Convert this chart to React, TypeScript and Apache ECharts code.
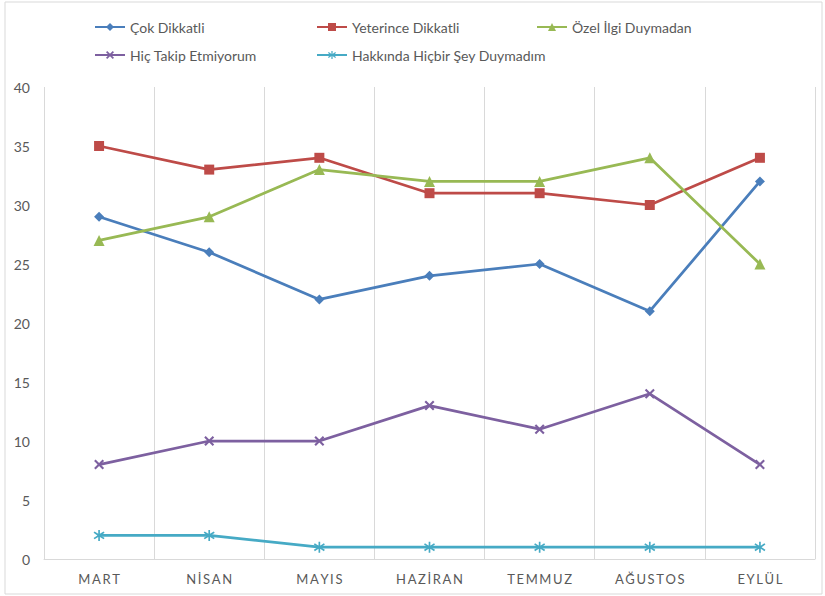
import React, { useEffect, useRef } from "react";
import * as echarts from "echarts";

const categories = ["MART", "NİSAN", "MAYIS", "HAZİRAN", "TEMMUZ", "AĞUSTOS", "EYLÜL"];
const cokDikkatli = [29, 26, 22, 24, 25, 21, 32];
const yeterinceDikkatli = [35, 33, 34, 31, 31, 30, 34];
const ozelIlgi = [27, 29, 33, 32, 32, 34, 25];
const hicTakip = [8, 10, 10, 13, 11, 14, 8];
const hakkinda = [2, 2, 1, 1, 1, 1, 1];

const names = [
  "Çok Dikkatli",
  "Yeterince Dikkatli",
  "Özel İlgi Duymadan",
  "Hiç Takip Etmiyorum",
  "Hakkında Hiçbir Şey Duymadım",
];
const colors = ["#4A7EBB", "#BE4B48", "#98B954", "#7D60A0", "#46AAC5"];

const xSymbol =
  "path://M0,1.5 L1.5,0 L5,3.5 L8.5,0 L10,1.5 L6.5,5 L10,8.5 L8.5,10 L5,6.5 L1.5,10 L0,8.5 L3.5,5 Z";
const starSymbol =
  "path://M4.3,0 L5.7,0 L5.7,3.6 L8.8,1.4 L9.6,2.6 L6.4,5 L9.6,7.4 L8.8,8.6 L5.7,6.4 L5.7,10 L4.3,10 L4.3,6.4 L1.2,8.6 L0.4,7.4 L3.6,5 L0.4,2.6 L1.2,1.4 L4.3,3.6 Z";

const FONT = "Lato, 'Open Sans', sans-serif";

export default function App() {
  const ref = useRef<HTMLDivElement>(null);
  useEffect(() => {
    if (!ref.current) return;
    const chart = echarts.init(ref.current, undefined, { renderer: "svg" });
    const dataSets = [cokDikkatli, yeterinceDikkatli, ozelIlgi, hicTakip, hakkinda];
    const symbols = ["diamond", "rect", "triangle", xSymbol, starSymbol];
    const symbolSizes = [10, 10, 11, 10, 11];
    const legendPos = [
      { left: 89, top: 15 },
      { left: 311, top: 15 },
      { left: 531, top: 15 },
      { left: 89, top: 43 },
      { left: 311, top: 43 },
    ];
    const spaced = (s: string) => s.split("").join("\u2009");
    chart.setOption({
      animation: false,
      textStyle: { fontFamily: FONT },
      graphic: [
        {
          type: "rect",
          shape: { x: 5, y: 2, width: 817, height: 592 },
          style: { fill: "none", stroke: "#D9D9D9", lineWidth: 1 },
          silent: true,
        },
      ],
      legend: names.map((n, i) => ({
        data: [n],
        left: legendPos[i].left,
        top: legendPos[i].top,
        itemWidth: 30,
        itemHeight: 10,
        itemGap: 4,
        textStyle: { color: "#595959", fontSize: 14, fontFamily: FONT },
        selectedMode: false,
      })),
      grid: { left: 44, right: 10, top: 87, bottom: 37, containLabel: false },
      xAxis: {
        type: "category",
        data: categories,
        boundaryGap: true,
        axisLine: { lineStyle: { color: "#D9D9D9" } },
        axisTick: { show: false },
        splitLine: { show: true, lineStyle: { color: "#D9D9D9" } },
        axisLabel: {
          color: "#595959",
          fontSize: 13,
          fontFamily: FONT,
          margin: 13,
          formatter: (v: string) => spaced(v),
        },
      },
      yAxis: {
        type: "value",
        min: 0,
        max: 40,
        interval: 5,
        axisLine: { show: false },
        axisTick: { show: false },
        splitLine: { show: false },
        axisLabel: { color: "#595959", fontSize: 14, fontFamily: FONT, margin: 14 },
      },
      series: names.map((n, i) => ({
        name: n,
        type: "line",
        data: dataSets[i],
        symbol: symbols[i],
        symbolSize: symbolSizes[i],
        showAllSymbol: true,
        lineStyle: { color: colors[i], width: 2.75 },
        itemStyle: { color: colors[i], borderWidth: 0 },
        emphasis: { disabled: true },
      })),
    });
    return () => chart.dispose();
  }, []);
  return (
    <div
      ref={ref}
      style={{ position: "fixed", left: 0, top: 0, width: 825, height: 596, background: "#fff" }}
    />
  );
}
